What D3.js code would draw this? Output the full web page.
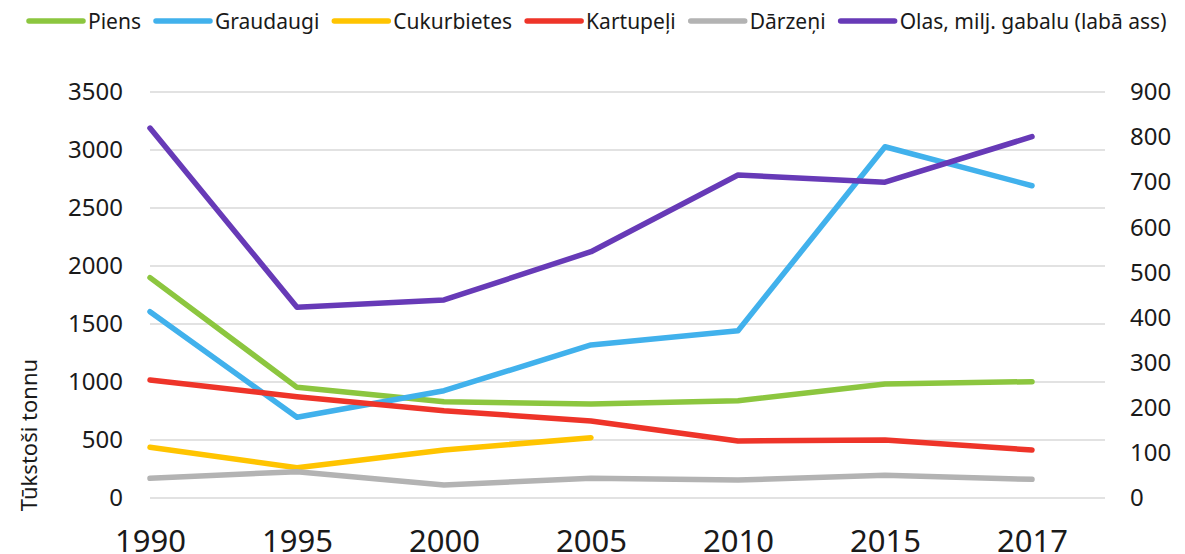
<!DOCTYPE html>
<html><head><meta charset="utf-8">
<script src="https://cdn.jsdelivr.net/npm/d3@7"></script>
<style>body{margin:0;background:#fff}svg{display:block}text{font-family:"Noto Sans","Open Sans",sans-serif;fill:#1a1a1a}</style>
</head><body><svg id="c" width="1185" height="554"></svg>
<script>
const years = ["1990","1995","2000","2005","2010","2015","2017"];
const piens = [1900, 954, 830, 810, 839, 983, 1003];
const graudaugi = [1606, 696, 925, 1319, 1442, 3028, 2692];
const cukurbietes = [437, 261, 414, 520, null, null, null];
const kartupeli = [1017, 873, 753, 664, 491, 500, 414];
const darzeni = [170, 227, 112, 170, 155, 196, 161];
const olas = [820, 423, 439, 546, 716, 700, 801];
const leftTicks = [0, 500, 1000, 1500, 2000, 2500, 3000, 3500];
const rightTicks = [0, 100, 200, 300, 400, 500, 600, 700, 800, 900];
const seriesNames = ["Piens","Graudaugi","Cukurbietes","Kartupeļi","Dārzeņi","Olas, milj. gabalu (labā ass)"];
const colors = ["#8cc63f","#41b1ec","#ffc400","#ee3429","#b3b3b3","#673ab7"];

const svg = d3.select("#c");
const L = 150, R = 1105, T = 92, B = 498;
const step = 147;
const x = d3.scalePoint().domain(years).range([L, L + step*(years.length-1)]);
const yL = d3.scaleLinear().domain([0,3500]).range([B,T]);
const yR = d3.scaleLinear().domain([0,900]).range([B,T]);

// gridlines
svg.append("g").selectAll("line").data(leftTicks).join("line")
  .attr("x1",L).attr("x2",R).attr("y1",d=>yL(d)).attr("y2",d=>yL(d))
  .attr("stroke","#d9d9d9").attr("stroke-width",1.5);

// left axis
const gl = svg.append("g").attr("transform",`translate(${L},0)`)
  .call(d3.axisLeft(yL).tickValues(leftTicks).tickFormat(d3.format("d")).tickSize(0).tickPadding(27));
gl.select(".domain").remove();
gl.selectAll("text").style("font-size","24px").attr("fill","#1a1a1a");
// right axis
const gr = svg.append("g").attr("transform",`translate(${R},0)`)
  .call(d3.axisRight(yR).tickValues(rightTicks).tickFormat(d3.format("d")).tickSize(0).tickPadding(25));
gr.select(".domain").remove();
gr.selectAll("text").style("font-size","24px").attr("fill","#1a1a1a");
// x axis
const gx = svg.append("g").attr("transform",`translate(0,${B})`)
  .call(d3.axisBottom(x).tickSize(0).tickPadding(0));
gx.select(".domain").remove();
gx.selectAll("text").attr("dy",null).attr("y",54).style("font-size","31px").attr("fill","#1a1a1a");

// y title
svg.append("text").attr("transform","translate(37,435) rotate(-90)")
  .attr("text-anchor","middle").style("font-size","22px").text("Tūkstoši tonnu");

const data = [piens, graudaugi, cukurbietes, kartupeli, darzeni, olas];
data.forEach((vals,i)=>{
  const ys = i===5 ? yR : yL;
  const line = d3.line().defined(d=>d!=null).x((d,j)=>x(years[j])).y(d=>ys(d));
  svg.append("path").datum(vals).attr("d",line).attr("fill","none")
    .attr("stroke",colors[i]).attr("stroke-width",5.5).attr("stroke-linejoin","round").attr("stroke-linecap","round");
});

// legend
const lg = svg.append("g");
let lx = 29;
seriesNames.forEach((n,i)=>{
  lg.append("line").attr("x1",lx).attr("x2",lx+54).attr("y1",21).attr("y2",21)
    .attr("stroke",colors[i]).attr("stroke-width",5.5).attr("stroke-linecap","round");
  const t = lg.append("text").attr("x",lx+59).attr("y",29).style("font-size","21px").text(n);
  lx += 59 + t.node().getComputedTextLength() + 15;
});
</script></body></html>
